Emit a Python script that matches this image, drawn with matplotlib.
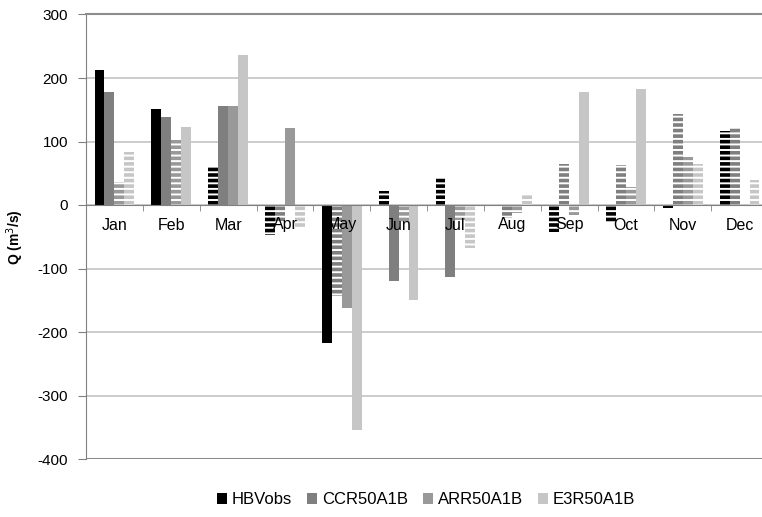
import matplotlib
matplotlib.use("Agg")
import matplotlib.pyplot as plt
import numpy as np
from matplotlib.patches import Patch

plt.rcParams["font.family"] = ["Liberation Sans", "DejaVu Sans"]
plt.rcParams["hatch.linewidth"] = 2.6
plt.rcParams["axes.unicode_minus"] = False

months = ["Jan", "Feb", "Mar", "Apr", "May", "Jun",
          "Jul", "Aug", "Sep", "Oct", "Nov", "Dec"]
series_names = ["HBVobs", "CCR50A1B", "ARR50A1B", "E3R50A1B"]
series_colors = ["#000000", "#7f7f7f", "#999999", "#c6c6c6"]

hbv = [213, 151, 60, -47, -218, 22, 43, 0, -43, -28, -5, 116]
ccr = [178, 139, 156, -25, -144, -120, -113, -20, 65, 63, 143, 123]
arr = [37, 103, 156, 122, -162, -28, -23, -12, -15, 28, 75, -2]
e3r = [84, 123, 237, -35, -354, -149, -67, 17, 178, 182, 65, 39]

# 1 = solid bar, 0 = striped bar
hbv_sig = [1, 1, 0, 0, 1, 0, 0, 0, 0, 0, 1, 0]
ccr_sig = [1, 1, 1, 0, 0, 1, 1, 0, 0, 0, 0, 0]
arr_sig = [0, 0, 1, 1, 1, 0, 0, 0, 0, 0, 0, 0]
e3r_sig = [0, 1, 1, 0, 1, 1, 0, 0, 1, 1, 0, 0]

values = [hbv, ccr, arr, e3r]
flags = [hbv_sig, ccr_sig, arr_sig, e3r_sig]

W, H = 762, 517
fig = plt.figure(figsize=(W / 100, H / 100), dpi=100)
ax = fig.add_axes([86 / W, (H - 459) / H, (768 - 86) / W, (459 - 14.5) / H])

x = np.arange(len(months))
width = 0.175
for k in range(4):
    pos = x + (k - 1.5) * width
    for i in range(len(months)):
        v = values[k][i]
        if flags[k][i]:
            ax.bar(pos[i], v, width, color=series_colors[k], linewidth=0, zorder=3)
        else:
            ax.bar(pos[i], v, width, facecolor="white", edgecolor=series_colors[k],
                   hatch="---", linewidth=0, zorder=3)

ax.set_xlim(-0.5, 11.5)
ax.set_ylim(-400, 300)
ax.set_yticks(np.arange(-400, 301, 100))
ax.yaxis.grid(True, color="#c8c8c8", linewidth=1.3, zorder=0)
ax.set_axisbelow(True)

ax.spines["right"].set_visible(False)
ax.spines["top"].set_color("#8c8c8c")
ax.spines["top"].set_linewidth(1.5)
ax.spines["left"].set_color("#808080")
ax.spines["bottom"].set_position(("data", 0))
ax.spines["bottom"].set_color("#808080")
ax.spines["bottom"].set_zorder(4)
ax.axhline(-400, color="#8c8c8c", linewidth=1.5, zorder=1)

ax.set_xticks(x)
ax.set_xticklabels(months, fontsize=11.5)
ax.set_xticks(x[:-1] + 0.5, minor=True)
ax.tick_params(axis="x", which="major", length=0, pad=9)
ax.tick_params(axis="x", which="minor", length=4, color="#808080", direction="out")
ax.tick_params(axis="y", length=6, color="#808080", labelsize=11, pad=7)
ax.xaxis.set_zorder(5)

ax.set_ylabel("Q (m$^3$/s)", fontsize=10, fontweight="bold", labelpad=8)

handles = [Patch(facecolor=c, edgecolor="none") for c in series_colors]
fig.legend(handles, series_names, loc="center", bbox_to_anchor=(426 / W, 1 - 500 / H),
           ncol=4, frameon=False, fontsize=12, handlelength=0.6, handleheight=0.6,
           handletextpad=0.3, columnspacing=0.9)

fig.savefig("out.png", dpi=100)
